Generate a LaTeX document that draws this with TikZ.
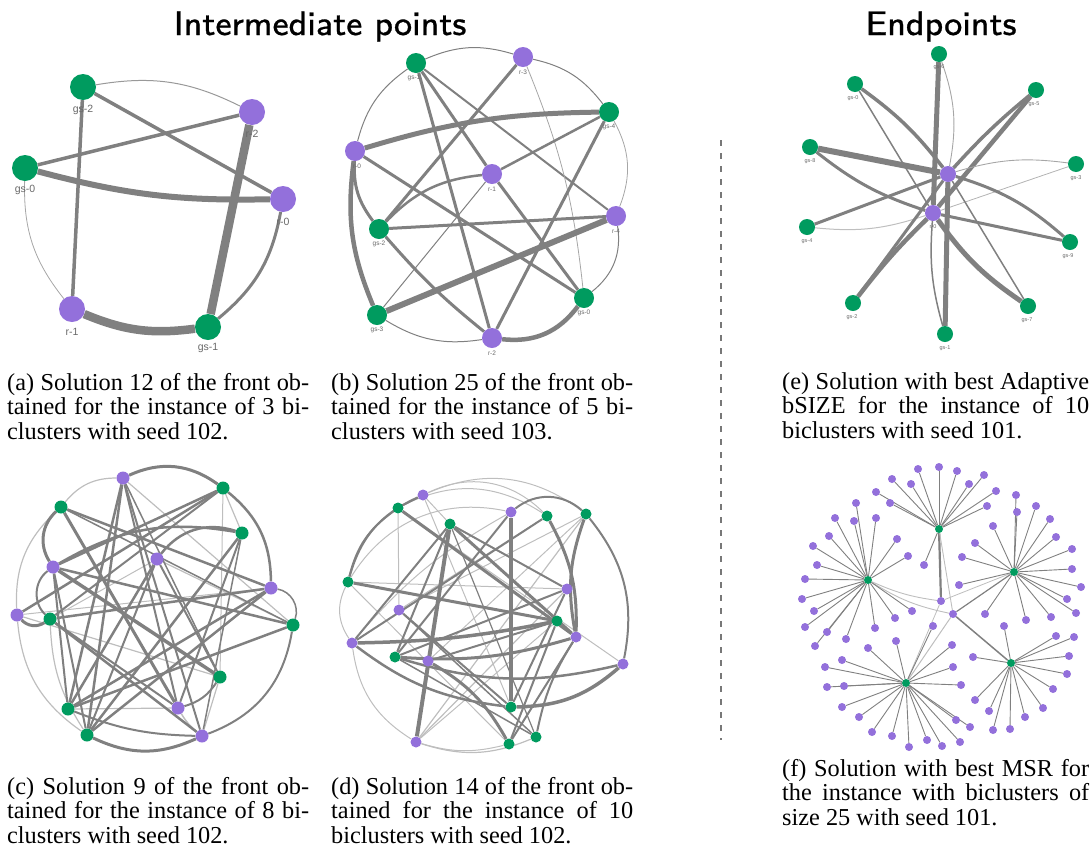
\documentclass[tikz,border=0pt]{standalone}
\usepackage{fontspec}
\setmainfont{Liberation Serif}
\newfontfamily\labfont{Liberation Sans}
\newfontfamily\ttlfont[FakeBold=0.8]{lmsans8-regular.otf}
\usetikzlibrary{calc}
\pgfdeclarelayer{bg}
\pgfsetlayers{bg,main}
\definecolor{gsgreen}{RGB}{0,155,95}
\definecolor{rpurple}{RGB}{147,112,219}
\definecolor{edgegray}{RGB}{128,128,128}
\definecolor{lightedge}{RGB}{190,190,190}
\definecolor{labgray}{RGB}{105,105,105}
\definecolor{dashgray}{RGB}{120,120,120}
\begin{document}
\begin{tikzpicture}[x=1pt,y=-1pt,
  gn/.style={circle,fill=gsgreen,draw=none,inner sep=0pt,minimum size=#1},
  rn/.style={circle,fill=rpurple,draw=none,inner sep=0pt,minimum size=#1},
  gc/.style={gn=13pt}, rc/.style={rn=13pt},
  gd/.style={gn=11pt}, rd/.style={rn=11pt},
  fl/.style={rn=8pt}, fh/.style={gn=8pt},
  ew/.style={draw=edgegray,line width=#1},
  lw/.style={draw=lightedge,line width=#1},
  fe/.style={draw=edgegray,line width=0.9pt},
  lab/.style={font=\labfont\fontsize{#1}{#1}\selectfont,text=labgray,inner sep=0pt},
  cap/.style={anchor=base west,text width=#1,align=justify,inner sep=0pt,
     font=\fontsize{24.3}{24.6}\selectfont},
  ttl/.style={anchor=base,inner sep=0pt,font=\ttlfont\fontsize{34}{34}\selectfont}]
\useasboundingbox (0,0) rectangle (1091,852);

% ---------- titles ----------
\node[ttl] (t1) at (320,35) {Intermediate points};
\node[ttl] (t2) at (941,35) {Endpoints};

% ---------- dashed separator ----------
\coordinate (dtop) at (721,140);
\coordinate (dbot) at (721,740);
\draw[dashgray,line width=1.6pt,dash pattern=on 6pt off 7pt] (dtop) -- (dbot);

% ================= (a) =================
\node[gn=26pt] (a-gs2) at (83,87) {};
\node[rn=26pt] (a-r2) at (252,112) {};
\node[gn=26pt] (a-gs0) at (25,168) {};
\node[rn=26pt] (a-r0) at (283,199) {};
\node[rn=26pt] (a-r1) at (72,309) {};
\node[gn=26pt] (a-gs1) at (208,327) {};
\begin{pgfonlayer}{bg}
\draw[ew=1pt,draw=edgegray!80] (a-gs2) to[bend left=18] (a-r2);
\draw[ew=3.5pt] (a-gs2) -- (a-r0);
\draw[ew=3.5pt] (a-gs2) -- (a-r1);
\draw[ew=3.5pt] (a-gs0) -- (a-r2);
\draw[ew=6pt] (a-gs0) to[bend right=8] (a-r0);
\draw[ew=0.8pt,draw=edgegray!70] (a-gs0) to[bend right=20] (a-r1);
\draw[ew=8.5pt] (a-r2) -- (a-gs1);
\draw[ew=3pt] (a-r0) to[bend left=20] (a-gs1);
\draw[ew=8.5pt] (a-r1) to[bend right=15] (a-gs1);
\end{pgfonlayer}
\node[lab=10.5pt] (a-l1) at ($(a-gs2)+(0,23)$) {gs-2};
\node[lab=10.5pt] (a-l2) at ($(a-r2)+(0,22)$) {r-2};
\node[lab=10.5pt] (a-l3) at ($(a-gs0)+(0,22)$) {gs-0};
\node[lab=10.5pt] (a-l4) at ($(a-r0)+(0,23)$) {r-0};
\node[lab=10.5pt] (a-l5) at ($(a-r1)+(0,23)$) {r-1};
\node[lab=10.5pt] (a-l6) at ($(a-gs1)+(0,21)$) {gs-1};

% ================= (b) =================
\node[gn=20pt] (b-gs1) at (416,63) {};
\node[rn=20pt] (b-r3) at (523,57) {};
\node[gn=20pt] (b-gs4) at (609,112) {};
\node[rn=20pt] (b-r0) at (355,151) {};
\node[rn=20pt] (b-r1) at (492,174) {};
\node[rn=20pt] (b-r4) at (616,216) {};
\node[gn=20pt] (b-gs2) at (379,229) {};
\node[gn=20pt] (b-gs0) at (584,298) {};
\node[gn=20pt] (b-gs3) at (377,315) {};
\node[rn=20pt] (b-r2) at (492,338) {};
\begin{pgfonlayer}{bg}
\draw[ew=1pt] (b-gs1) to[bend left=20] (b-r3);
\draw[ew=1pt] (b-gs1) to[bend right=20] (b-r0);
\draw[ew=1pt] (b-r3) to[bend left=20] (b-gs4);
\draw[ew=0.8pt,draw=edgegray!70] (b-gs4) to[bend left=25] (b-r4);
\draw[ew=1pt] (b-r4) to[bend left=30] (b-gs0);
\draw[ew=4.5pt] (b-gs0) to[bend left=30] (b-r2);
\draw[ew=1pt] (b-r2) to[bend left=20] (b-gs3);
\draw[ew=4.5pt] (b-r0) to[bend right=15] (b-gs3);
\draw[ew=3pt] (b-r0) to[bend right=20] (b-gs2);
\draw[ew=3pt] (b-gs1) -- (b-r1);
\draw[ew=3pt] (b-gs1) -- (b-r2);
\draw[ew=2pt] (b-gs1) -- (b-r4);
\draw[ew=3pt] (b-r3) -- (b-gs2);
\draw[ew=0.8pt,draw=edgegray!70] (b-r3) to[bend left=8] (b-gs0);
\draw[ew=5pt] (b-gs4) to[bend right=8] (b-r0);
\draw[ew=2.5pt] (b-gs4) -- (b-r1);
\draw[ew=3pt] (b-gs4) -- (b-r2);
\draw[ew=3pt] (b-r0) -- (b-gs0);
\draw[ew=2.5pt] (b-r1) to[bend right=20] (b-gs2);
\draw[ew=1pt] (b-r1) -- (b-gs3);
\draw[ew=3pt] (b-r1) -- (b-gs0);
\draw[ew=3pt] (b-gs2) -- (b-r4);
\draw[ew=3pt] (b-gs2) to[bend right=5] (b-r2);
\draw[ew=6pt] (b-r4) -- (b-gs3);
\end{pgfonlayer}
\node[lab=6.5pt] (b-l1) at ($(b-gs1)+(-2,15)$) {gs-1};
\node[lab=6.5pt] (b-l2) at ($(b-r3)+(0,15)$) {r-3};
\node[lab=6.5pt] (b-l3) at ($(b-gs4)+(0,15)$) {gs-4};
\node[lab=6.5pt] (b-l4) at ($(b-r0)+(2,15)$) {r-0};
\node[lab=6.5pt] (b-l5) at ($(b-r1)+(0,15)$) {r-1};
\node[lab=6.5pt] (b-l6) at ($(b-r4)+(0,15)$) {r-4};
\node[lab=6.5pt] (b-l7) at ($(b-gs2)+(0,15)$) {gs-2};
\node[lab=6.5pt] (b-l8) at ($(b-gs0)+(0,15)$) {gs-0};
\node[lab=6.5pt] (b-l9) at ($(b-gs3)+(0,15)$) {gs-3};
\node[lab=6.5pt] (b-l10) at ($(b-r2)+(0,15)$) {r-2};

% ================= (e) =================
\node[gn=16pt] (e-gs6) at (939,54) {};
\node[gn=16pt] (e-gs0) at (855,84) {};
\node[gn=16pt] (e-gs5) at (1036,90) {};
\node[gn=16pt] (e-gs8) at (810,147) {};
\node[gn=16pt] (e-gs3) at (1076,164) {};
\node[rn=16pt] (e-r1) at (948,174) {};
\node[rn=16pt] (e-r0) at (933,213) {};
\node[gn=16pt] (e-gs4) at (807,227) {};
\node[gn=16pt] (e-gs9) at (1070,242) {};
\node[gn=16pt] (e-gs2) at (853,303) {};
\node[gn=16pt] (e-gs7) at (1028,306) {};
\node[gn=16pt] (e-gs1) at (945,334) {};
\begin{pgfonlayer}{bg}
\draw[ew=0.9pt,draw=edgegray!70] (e-gs6) to[bend left=15] (e-r1);
\draw[ew=5pt] (e-gs6) -- (e-r0);
\draw[ew=3.5pt] (e-gs0) to[bend left=8] (e-r1);
\draw[ew=1.5pt] (e-gs0) -- (e-r0);
\draw[ew=3.5pt] (e-gs5) to[bend right=4] (e-r1);
\draw[ew=4.5pt] (e-gs5) -- (e-r0);
\draw[ew=6pt] (e-gs8) -- (e-r1);
\draw[ew=3pt] (e-gs8) to[bend right=10] (e-r0);
\draw[ew=0.9pt,draw=edgegray!70] (e-gs3) to[bend right=12] (e-r1);
\draw[ew=0.8pt,draw=edgegray!60] (e-gs3) -- (e-r0);
\draw[ew=3pt] (e-gs4) -- (e-r1);
\draw[ew=1pt,draw=edgegray!50] (e-gs4) to[bend right=12] (e-r0);
\draw[ew=3pt] (e-gs9) to[bend right=12] (e-r1);
\draw[ew=3pt] (e-gs9) -- (e-r0);
\draw[ew=3pt] (e-gs2) -- (e-r1);
\draw[ew=4.5pt] (e-gs2) to[bend left=4] (e-r0);
\draw[ew=5pt] (e-gs7) to[bend left=10] (e-r0);
\draw[ew=1.5pt] (e-gs7) -- (e-r1);
\draw[ew=5pt] (e-gs1) -- (e-r1);
\draw[ew=1.5pt] (e-gs1) to[bend left=10] (e-r0);
\end{pgfonlayer}
\node[lab=5.5pt] (e-l1) at ($(e-gs6)+(0,13)$) {gs-6};
\node[lab=5.5pt] (e-l2) at ($(e-gs0)+(-2,14)$) {gs-0};
\node[lab=5.5pt] (e-l3) at ($(e-gs5)+(-2,14)$) {gs-5};
\node[lab=5.5pt] (e-l4) at ($(e-gs8)+(0,14)$) {gs-8};
\node[lab=5.5pt] (e-l5) at ($(e-gs3)+(0,14)$) {gs-3};
\node[lab=5.5pt] (e-l6) at ($(e-r0)+(0,14)$) {r-0};
\node[lab=5.5pt] (e-l7) at ($(e-gs4)+(0,14)$) {gs-4};
\node[lab=5.5pt] (e-l8) at ($(e-gs9)+(-2,14)$) {gs-9};
\node[lab=5.5pt] (e-l9) at ($(e-gs2)+(-1,14)$) {gs-2};
\node[lab=5.5pt] (e-l10) at ($(e-gs7)+(-1,14)$) {gs-7};
\node[lab=5.5pt] (e-l11) at ($(e-gs1)+(0,14)$) {gs-1};

% ================= (c) =================
\foreach \n/\x/\y/\k in {1/123/478/rc,2/223/488/gc,3/61/507/gc,4/242/533/gc,
  5/157/559/rc,6/53/567/rc,7/271/588/rc,8/17/615/rc,9/50/619/gc,10/293/625/gc,
  11/220/677/gc,12/68/709/gc,13/178/708/rc,14/87/735/gc,15/202/736/rc}
  {\node[\k] (c\n) at (\x,\y) {};}
\begin{pgfonlayer}{bg}
\foreach \u/\v/\w/\b in {14/8/1.2/-25,8/3/1.2/-25,3/1/1.2/-25,2/11/1/0,1/10/1.2/0,
  5/9/1/0,5/10/1.2/0,7/8/1/0,9/14/1.2/15,8/11/1.2/0,11/15/1.2/0,12/13/1.2/0,
  13/15/1.5/10,4/2/1.2/0}
  {\draw[lw=\w pt] (c\u) to[bend right=\b] (c\v);}
\foreach \u/\v/\w/\b in {1/2/3/-30,2/7/2.5/-25,10/15/2/-30,15/14/3/-25,3/6/3/40,
  6/9/2/50,8/9/3/40,4/5/2.5/35,4/6/2.5/20,2/6/2.5/0,2/8/2.5/0,2/9/2/0,1/12/2.5/0,
  1/14/2.5/0,1/13/2/0,1/15/2/0,1/11/1.5/0,3/7/2.5/0,3/13/3/0,3/10/1.5/0,5/12/2.5/0,
  5/14/2/0,5/11/2/0,6/11/3.5/0,6/10/2.5/0,6/12/2/0,6/14/2/0,7/12/2.5/0,7/14/2.5/0,
  7/9/2.5/0,4/14/2.5/0,4/13/2/0,4/15/1.5/0,9/13/2/0,9/15/2.5/0,11/13/2/-20,
  12/15/2/10,10/12/2.5/0,7/10/1.5/-50}
  {\draw[ew=\w pt] (c\u) to[bend right=\b] (c\v);}
\end{pgfonlayer}

% ================= (d) =================
\foreach \n/\x/\y/\k in {1/423/495/rd,2/398/508/gd,3/511/512/rd,4/547/516/gd,
  5/586/514/gd,6/450/524/gd,7/348/582/gd,8/567/589/rd,9/399/610/rd,10/557/621/gd,
  11/576/637/rd,12/352/643/rd,13/395/657/gd,14/428/661/rd,15/623/664/rd,
  16/511/707/gd,17/416/742/rd,18/509/744/gd,19/536/737/gd}
  {\node[\k] (d\n) at (\x,\y) {};}
\begin{pgfonlayer}{bg}
\foreach \u/\v/\w/\b in {1/5/1/-30,1/4/1/-35,8/17/1.2/0,10/17/1/0,17/19/1.2/20,
  17/18/1/15,12/17/1/25,7/12/1/30,7/18/1/0,9/5/1/0,1/16/1/0,2/15/1/0,5/17/1.2/0,
  14/5/1/0,7/8/1/0,2/9/1/0,1/6/1/0,3/12/1/10,4/9/1/0,2/4/1/-30,7/3/1/-35}
  {\draw[lw=\w pt] (d\u) to[bend right=\b] (d\v);}
\foreach \u/\v/\w/\b in {3/16/4/0,6/17/4/0,6/8/2/0,6/11/3/0,6/12/2/0,6/13/2/0,
  2/11/3/0,2/7/2/20,2/1/1.5/0,7/10/3/0,12/10/3.5/5,13/11/3/10,14/18/3/-15,
  15/16/3.5/-20,4/11/3/-15,5/11/3/15,5/15/2/-25,3/5/2/-40,7/1/2/-25,8/16/2/0,
  8/13/2/0,9/16/2/0,9/19/1.5/0,10/18/2/0,11/19/2/10,11/18/2/0,16/12/2.5/-15,
  13/15/2.5/15,14/10/2/0,6/19/1.2/0,4/12/2/0,3/13/2/0,13/19/1.5/0}
  {\draw[ew=\w pt] (d\u) to[bend right=\b] (d\v);}
\end{pgfonlayer}

% ================= (f) =================
\node[fh] (f-h1) at (939,529) {};
\node[fh] (f-h2) at (868,580) {};
\node[fh] (f-h3) at (1014,572) {};
\node[fh] (f-h4) at (906,683) {};
\node[fh] (f-h5) at (1011,663) {};
\node[fl] (f-ca) at (941,601) {};
\node[fl] (f-cb) at (953,614) {};
\begin{pgfonlayer}{bg}
\draw[ew=2.2pt] (f-h1) -- (f-ca);
\draw[lw=0.9pt] (f-h2) to[bend right=8] (f-ca);
\draw[lw=0.9pt] (f-h2) to[bend right=10] (f-cb);
\draw[ew=1.5pt] (f-cb) -- (f-h5);
\draw[ew=1.2pt] (f-cb) -- (f-h3);
\draw[lw=1pt] (f-cb) -- (f-h4);
\draw[lw=0.9pt] (f-h1) -- (f-cb);
\draw[lw=0.8pt] (f-ca) -- (f-h3);
\draw[lw=0.8pt] (f-ca) -- (f-h4);
\end{pgfonlayer}
\foreach \x/\y [count=\i] in {918/469,939/467,957/471,984/475,969/484,996/491,
  987/506,892/479,911/484,876/492,890/503,924/565}
  {\node[fl] (f1-\i) at (\x,\y) {};
   \begin{pgfonlayer}{bg}\draw[fe] (f-h1) -- (f1-\i);\end{pgfonlayer}}
\foreach \x/\y [count=\i] in {856/503,835/518,854/521,876/518,829/536,813/546,
  897/539,908/556,817/565,805/579,802/599,814/611,805/627,827/632,815/646,846/639,
  875/628,895/618,912/611}
  {\node[fl] (f2-\i) at (\x,\y) {};
   \begin{pgfonlayer}{bg}\draw[fe] (f-h2) -- (f2-\i);\end{pgfonlayer}}
\foreach \x/\y [count=\i] in {1016/495,1017/512,1036/506,1050/519,1056/537,993/526,
  975/543,962/557,1072/549,1072/569,1081/587,959/585,1067/599,1076/613,1051/617,
  1026/620,985/614}
  {\node[fl] (f3-\i) at (\x,\y) {};
   \begin{pgfonlayer}{bg}\draw[fe] (f-h3) -- (f3-\i);\end{pgfonlayer}}
\foreach \x/\y [count=\i] in {933/626,896/641,868/648,952/645,842/660,825/667,
  953/667,827/687,844/686,961/685,842/707,859/717,956/720,970/727,872/732,892/736,
  909/747,927/740,942/746,960/742}
  {\node[fl] (f4-\i) at (\x,\y) {};
   \begin{pgfonlayer}{bg}\draw[fe] (f-h4) -- (f4-\i);\end{pgfonlayer}}
\foreach \x/\y [count=\i] in {1004/626,1056/636,1074/637,973/657,1069/656,1067/674,
  1053/689,975/700,1043/708,989/711,1025/717,993/730,1010/729}
  {\node[fl] (f5-\i) at (\x,\y) {};
   \begin{pgfonlayer}{bg}\draw[fe] (f-h5) -- (f5-\i);\end{pgfonlayer}}

% ---------- captions ----------
\node[cap=302pt] (capa) at (7,390) {(a) Solution 12 of the front ob-\linebreak tained for the instance of 3 bi-\linebreak clusters with seed 102.};
\node[cap=302pt] (capb) at (331,390) {(b) Solution 25 of the front ob-\linebreak tained for the instance of 5 bi-\linebreak clusters with seed 103.};
\node[cap=302pt] (capc) at (7,794) {(c) Solution 9 of the front ob-\linebreak tained for the instance of 8 bi-\linebreak clusters with seed 102.};
\node[cap=302pt] (capd) at (331,794) {(d) Solution 14 of the front ob-\linebreak tained for the instance of 10\linebreak biclusters with seed 102.};
\node[cap=307pt] (cape) at (782,389) {(e) Solution with best Adaptive\linebreak bSIZE for the instance of 10\linebreak biclusters with seed 101.};
\node[cap=307pt] (capf) at (782,776) {(f) Solution with best MSR for\linebreak the instance with biclusters of\linebreak size 25 with seed 101.};
\end{tikzpicture}
\end{document}
